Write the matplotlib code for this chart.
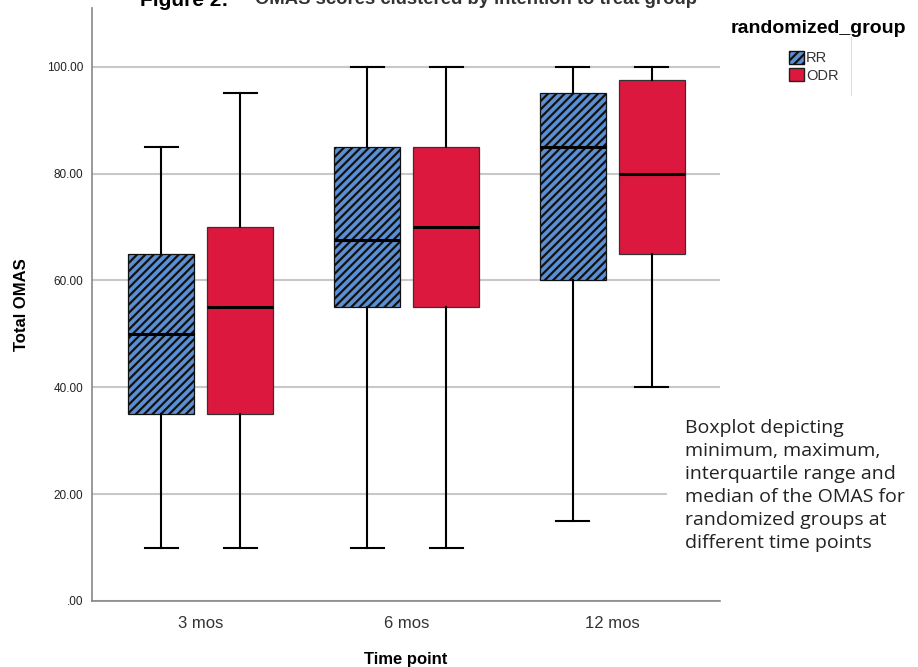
import numpy as np
import matplotlib.pyplot as plt
from matplotlib.patches import Patch, Rectangle
from matplotlib.lines import Line2D

# Boxplot summaries
time_points = ['3 mos', '6 mos', '12 mos']
groups = ['RR', 'ODR']
rr_min = [10, 10, 15]
rr_q1 = [35, 55, 60]
rr_med = [50, 67.5, 85]
rr_q3 = [65, 85, 95]
rr_max = [85, 100, 100]
odr_min = [10, 10, 40]
odr_q1 = [35, 55, 65]
odr_med = [55, 70, 80]
odr_q3 = [70, 85, 97.5]
odr_max = [95, 100, 100]

y_ticks = [0, 20, 40, 60, 80, 100]
y_tick_labels = ['.00', '20.00', '40.00', '60.00', '80.00', '100.00']

plt.rcParams['font.family'] = ['Liberation Sans', 'DejaVu Sans']
plt.rcParams['hatch.linewidth'] = 1.6

fig = plt.figure(figsize=(9.18, 6.67), dpi=100)
ax = fig.add_axes([0.100, 0.099, 0.684, 0.889])


def make_stats(mins, q1s, meds, q3s, maxs):
    return [dict(whislo=a, q1=b, med=c, q3=d, whishi=e, fliers=[])
            for a, b, c, d, e in zip(mins, q1s, meds, q3s, maxs)]


x = np.arange(len(time_points))
offset = 0.192
width = 0.32
common = dict(widths=width, patch_artist=True, showfliers=False,
              whiskerprops=dict(color='black', linewidth=1.5),
              capprops=dict(color='black', linewidth=1.5),
              medianprops=dict(color='black', linewidth=2.2),
              manage_ticks=False)

rr = ax.bxp(make_stats(rr_min, rr_q1, rr_med, rr_q3, rr_max),
            positions=x - offset,
            boxprops=dict(facecolor='#5b8fd2', edgecolor='#111111',
                          linewidth=0.9, hatch='////'),
            **common)
odr = ax.bxp(make_stats(odr_min, odr_q1, odr_med, odr_q3, odr_max),
             positions=x + offset,
             boxprops=dict(facecolor='#dc183e', edgecolor='#333333',
                           linewidth=0.9),
             **common)
for c in rr['caps'] + odr['caps']:
    xd = c.get_xdata()
    m = (xd[0] + xd[1]) / 2
    c.set_xdata([m - width * 0.25, m + width * 0.25])

ax.set_xlim(-0.530, 2.522)
ax.set_ylim(0, 111)
ax.set_xticks(x)
ax.set_xticklabels(time_points, fontsize=12, color='#333333')
ax.set_yticks(y_ticks)
ax.set_yticklabels(y_tick_labels, fontsize=8.5, color='#222222')
ax.tick_params(axis='y', length=0, pad=6)
ax.tick_params(axis='x', length=0, pad=11)
ax.yaxis.grid(True, color='#c8c8c8', linewidth=1.5)
ax.set_axisbelow(True)
for s in ['top', 'right']:
    ax.spines[s].set_visible(False)
for s in ['left', 'bottom']:
    ax.spines[s].set_color('#888888')
    ax.spines[s].set_linewidth(1.2)

ax.set_ylabel('Total OMAS', fontsize=12, fontweight='bold', labelpad=13)
ax.set_xlabel('Time point', fontsize=12, fontweight='bold', labelpad=15)

# clipped title at the very top
fig.text(0.153, 1.0, 'Figure 2:', fontsize=15, fontweight='bold', va='center')
fig.text(0.278, 1.0, 'OMAS scores clustered by intention to treat group',
         fontsize=13.3, fontweight='bold', va='center', color='#333333')

# legend
fig.text(0.796, 0.958, 'randomized_group', fontsize=14, fontweight='bold',
         va='center')
handles = [Patch(facecolor='#5b8fd2', edgecolor='#111111', hatch='////'),
           Patch(facecolor='#dc183e', edgecolor='#222222')]
fig.legend(handles, groups, loc='upper left', bbox_to_anchor=(0.852, 0.935),
           frameon=False, fontsize=10.5, handlelength=1.0, handleheight=1.0,
           handletextpad=0.15, labelspacing=0.2, borderpad=0,
           labelcolor='#333333')
fig.add_artist(Line2D([0.927, 0.927], [0.857, 0.945], color='#dddddd',
                      linewidth=0.8))

# white note box with caption
fig.add_artist(Rectangle((0.727, 0.115), 0.273, 0.29,
                         transform=fig.transFigure, facecolor='white',
                         edgecolor='none', zorder=2))
fig.text(0.746, 0.372,
         'Boxplot depicting\nminimum, maximum,\ninterquartile range and\n'
         'median of the OMAS for\nrandomized groups at\ndifferent time points',
         fontsize=14, family=['Open Sans', 'DejaVu Sans'], va='top',
         linespacing=1.36, color='#222222', zorder=3)

fig.savefig('out.png', dpi=100)
